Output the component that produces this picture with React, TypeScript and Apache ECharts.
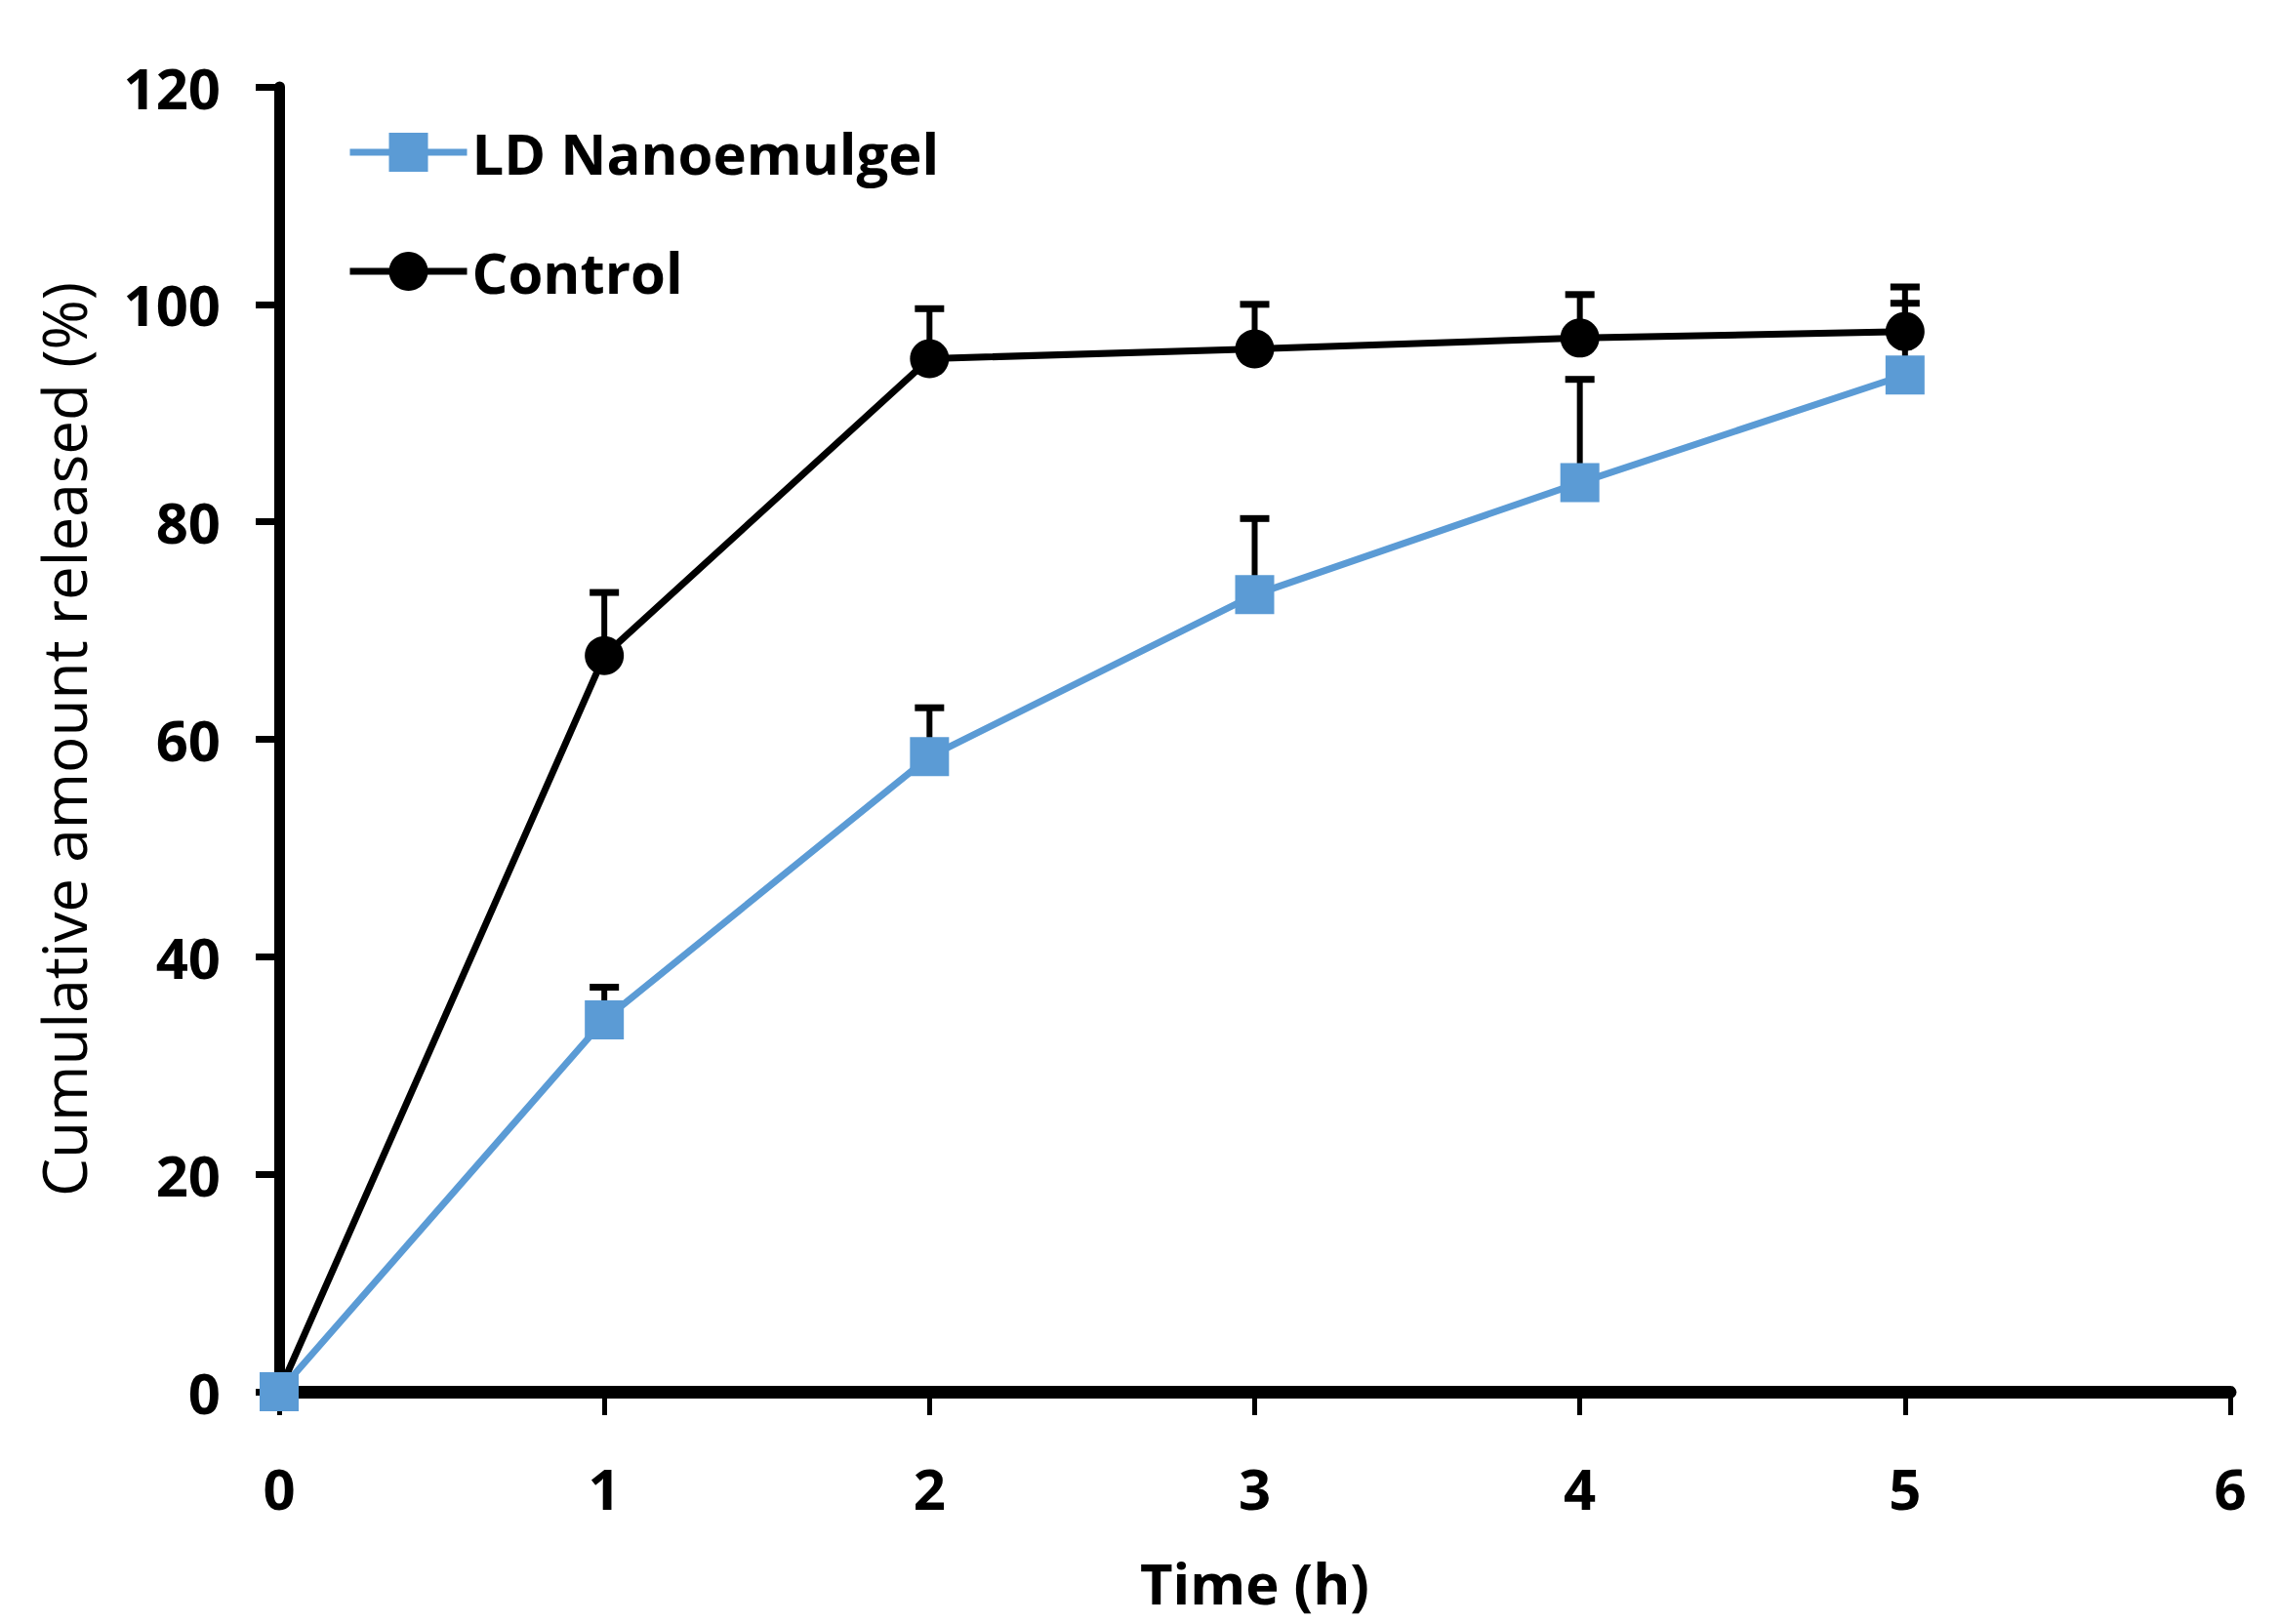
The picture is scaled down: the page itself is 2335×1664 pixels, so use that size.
import React, { useEffect, useRef } from "react";
import * as echarts from "echarts";

const timeHours = [0, 1, 2, 3, 4, 5];
const nanoValues = [0, 34.2, 58.4, 73.3, 83.6, 93.5];
const nanoErrors = [0, 3.0, 4.5, 7.0, 9.5, 6.6];
const controlValues = [0, 67.7, 95.0, 95.9, 96.9, 97.5];
const controlErrors = [0, 5.8, 4.6, 4.1, 4.0, 4.1];
const seriesNames = ["LD Nanoemulgel", "Control"];

const FONT = "'Open Sans', 'DejaVu Sans', sans-serif";

function errorRender(params: any, api: any) {
  const x = api.value(0);
  const y = api.value(1);
  const e = api.value(2);
  if (!e) return { type: "group", children: [] };
  const p0 = api.coord([x, y]);
  const p1 = api.coord([x, y + e]);
  return {
    type: "group",
    children: [
      {
        type: "line",
        shape: { x1: p0[0], y1: p0[1], x2: p1[0], y2: p1[1] },
        style: { stroke: "#000", lineWidth: 6 },
      },
      {
        type: "line",
        shape: { x1: p1[0] - 15, y1: p1[1], x2: p1[0] + 15, y2: p1[1] },
        style: { stroke: "#000", lineWidth: 7 },
      },
    ],
  };
}

export default function App() {
  const ref = useRef<HTMLDivElement>(null);
  useEffect(() => {
    if (!ref.current) return;
    const chart = echarts.init(ref.current, null, { renderer: "svg" });
    const nanoData = timeHours.map((t, i) => [t, nanoValues[i]]);
    const controlData = timeHours.map((t, i) => [t, controlValues[i]]);
    const nanoErr = timeHours.map((t, i) => [t, nanoValues[i], nanoErrors[i]]);
    const controlErr = timeHours.map((t, i) => [t, controlValues[i], controlErrors[i]]);
    chart.setOption({
      animation: false,
      backgroundColor: "#fff",
      grid: { left: 286, right: 50, top: 89, bottom: 238, containLabel: false },
      legend: {
        data: seriesNames,
        orient: "vertical",
        left: 355,
        top: 127,
        itemWidth: 120,
        itemHeight: 50,
        itemGap: 64,
        padding: 0,
        lineStyle: { width: 7 },
        textStyle: { fontFamily: FONT, fontSize: 58, fontWeight: "bold", color: "#000", lineHeight: 50 },
      },
      xAxis: {
        type: "value",
        min: 0,
        max: 6,
        interval: 1,
        name: "Time (h)",
        nameLocation: "middle",
        nameGap: 166,
        nameTextStyle: { fontFamily: FONT, fontSize: 58, fontWeight: "bold", color: "#000", lineHeight: 58 },
        axisLine: { show: true, lineStyle: { color: "#000", width: 13 } },
        axisTick: { show: true, inside: false, length: 24, lineStyle: { color: "#000", width: 5 } },
        axisLabel: { fontFamily: FONT, fontSize: 58, fontWeight: "bold", color: "#000", margin: 68, lineHeight: 60 },
        splitLine: { show: false },
      },
      yAxis: {
        type: "value",
        min: 0,
        max: 120,
        interval: 20,
        name: "Cumulative amount released (%)",
        nameLocation: "middle",
        nameGap: 190,
        nameTextStyle: { fontFamily: FONT, fontSize: 62, fontWeight: "normal", color: "#000" },
        axisLine: { show: true, lineStyle: { color: "#000", width: 11 } },
        axisTick: { show: true, inside: false, length: 24, lineStyle: { color: "#000", width: 7 } },
        axisLabel: { fontFamily: FONT, fontSize: 58, fontWeight: "bold", color: "#000", margin: 60 },
        splitLine: { show: false },
      },
      series: [
        {
          name: "errNano",
          type: "custom",
          renderItem: errorRender,
          data: nanoErr,
          z: 1,
          silent: true,
        },
        {
          name: "errControl",
          type: "custom",
          renderItem: errorRender,
          data: controlErr,
          z: 1,
          silent: true,
        },
        {
          name: seriesNames[1],
          type: "line",
          data: controlData,
          symbol: "circle",
          symbolSize: 40,
          lineStyle: { color: "#000", width: 7 },
          itemStyle: { color: "#000" },
          z: 3,
        },
        {
          name: seriesNames[0],
          type: "line",
          data: nanoData,
          symbol: "rect",
          symbolSize: 40,
          lineStyle: { color: "#5B9BD5", width: 7 },
          itemStyle: { color: "#5B9BD5" },
          z: 4,
        },
      ],
    });
    return () => chart.dispose();
  }, []);
  return (
    <div
      ref={ref}
      style={{ position: "fixed", left: 0, top: 0, width: 2335, height: 1664, background: "#fff" }}
    />
  );
}
